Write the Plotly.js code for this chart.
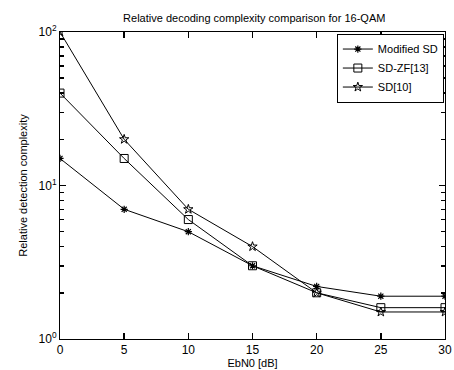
<!DOCTYPE html>
<html><head>
<script src="https://cdn.plot.ly/plotly-3.0.1.min.js"></script>
<style>body{margin:0;background:#fff}#c{width:454px;height:370px}</style>
</head><body><div id="c"></div>
<script>
const ebn0 = [0, 5, 10, 15, 20, 25, 30];
const modifiedSD = [15, 7, 5, 3, 2.2, 1.9, 1.9];
const sdZF = [40, 15, 6, 3, 2, 1.6, 1.6];
const sd10 = [100, 20, 7, 4, 2, 1.5, 1.5];
const names = ['Modified SD', 'SD-ZF[13]', 'SD[10]'];
const yTickVals = [1, 10, 100];
const yTickText = ['10<sup>0</sup>', '10<sup>1</sup>', '10<sup>2</sup>'];
const yMinorVals = [2, 3, 4, 5, 6, 7, 8, 9, 20, 30, 40, 50, 60, 70, 80, 90];
const xTickVals = [0, 5, 10, 15, 20, 25, 30];

const line = {color: '#000', width: 1};
const traces = [
  {x: ebn0, y: modifiedSD, name: names[0], mode: 'lines+markers', line: line,
   marker: {symbol: 'asterisk-open', size: 6, color: '#000', line: {color: '#000', width: 1.2}}},
  {x: ebn0, y: sdZF, name: names[1], mode: 'lines+markers', line: line,
   marker: {symbol: 'square-open', size: 8, color: '#000', line: {color: '#000', width: 1}}},
  {x: ebn0, y: sd10, name: names[2], mode: 'lines+markers', line: line,
   marker: {symbol: 'star-open', size: 7, color: '#000', line: {color: '#000', width: 1}}},
  {x: [null], y: [null], yaxis: 'y2', showlegend: false, hoverinfo: 'skip', mode: 'lines'}
];
const font = {family: 'Liberation Sans, Arial, sans-serif', size: 11, color: '#000'};
const layout = {
  width: 454, height: 370,
  margin: {l: 60, r: 9, t: 32, b: 31},
  paper_bgcolor: '#fff', plot_bgcolor: '#fff',
  font: font,
  showlegend: true,
  title: {text: 'Relative decoding complexity comparison for 16-QAM', font: {size: 11, family: font.family, color: '#000'},
          x: 0.56, xanchor: 'center', y: 0.962, yanchor: 'top'},
  xaxis: {range: [0, 30], tickvals: xTickVals, ticks: 'inside', ticklen: 6, tickcolor: '#000', tickwidth: 1.5, mirror: 'ticks',
          showline: true, linecolor: '#000', linewidth: 1, showgrid: false, zeroline: false,
          title: {text: 'EbN0 [dB]', standoff: 2, font: {size: 11}}, tickfont: {size: 12}},
  yaxis: {type: 'log', range: [0, 2], tickvals: yTickVals, ticktext: yTickText, ticks: 'inside', ticklen: 6,
          tickcolor: '#000', tickwidth: 1.5,
          mirror: 'ticks', showline: true, linecolor: '#000', linewidth: 1, showgrid: false, zeroline: false,
          title: {text: 'Relative detection complexity', standoff: 8, font: {size: 11}}, tickfont: {size: 12}},
  yaxis2: {type: 'log', range: [0, 2], overlaying: 'y', side: 'left', tickvals: yMinorVals, ticks: 'inside', ticklen: 4,
           tickcolor: '#000', tickwidth: 1.5,
           mirror: 'ticks', showline: true, linecolor: '#000', linewidth: 1, showgrid: false, zeroline: false,
           showticklabels: false},
  legend: {x: 0.997, xanchor: 'right', y: 0.995, yanchor: 'top', bgcolor: '#fff', bordercolor: '#000', borderwidth: 1,
           font: {size: 11}, tracegroupgap: 0, itemwidth: 30}
};
Plotly.newPlot('c', traces, layout, {displayModeBar: false, staticPlot: true});
</script></body></html>
